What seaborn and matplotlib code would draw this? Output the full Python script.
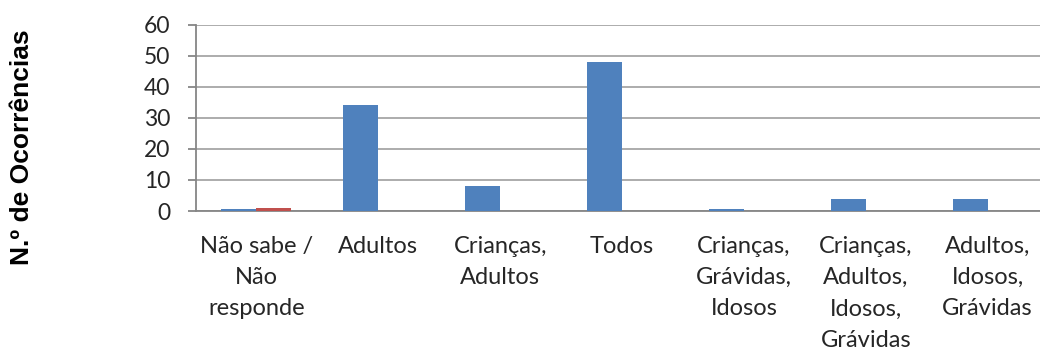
import matplotlib
matplotlib.use("Agg")
import matplotlib.pyplot as plt
from matplotlib.ticker import FixedLocator
import pandas as pd
import seaborn as sns

# Categories of who is affected and the number of occurrences per series
categorias = [
    "Não sabe /\nNão\nresponde",
    "Adultos",
    "Crianças,\nAdultos",
    "Todos",
    "Crianças,\nGrávidas,\nIdosos",
    "Crianças,\nAdultos,\nIdosos,\nGrávidas",
    "Adultos,\nIdosos,\nGrávidas",
]
serie_1 = [0.5, 34, 8, 48, 0.5, 4, 4]
serie_2 = [1, 0, 0, 0, 0, 0, 0]
series = ["Série 1", "Série 2"]
cores = ["#4F81BD", "#C0504D"]
y_ticks = [0, 10, 20, 30, 40, 50, 60]

df = pd.DataFrame({
    "categoria": categorias * 2,
    "serie": [series[0]] * len(categorias) + [series[1]] * len(categorias),
    "valor": serie_1 + serie_2,
})

sns.set_theme(style="white")
plt.rcParams["font.family"] = ["Lato", "DejaVu Sans"]

W, H = 1040, 354
fig = plt.figure(figsize=(W / 100, H / 100), dpi=100)
x0, x1 = 195.5, 1048.5
y0, y1 = 211, 24.5
ax = fig.add_axes([x0 / W, (H - y0) / H, (x1 - x0) / W, (y0 - y1) / H])

grid_c = "#A6A6A6"
axis_c = "#868686"
text_c = "#262626"

for side in ("top", "right"):
    ax.spines[side].set_visible(False)
for side in ("left", "bottom"):
    ax.spines[side].set_color(axis_c)
    ax.spines[side].set_linewidth(1.3)
    ax.spines[side].set_zorder(1)

sns.barplot(
    data=df, x="categoria", y="valor", hue="serie", palette=cores,
    order=categorias, hue_order=series, width=0.575, gap=0,
    saturation=1, legend=False, ax=ax, zorder=3, linewidth=0,
)

ax.set_xlim(-0.5, len(categorias) - 0.5)
ax.set_ylim(y_ticks[0], y_ticks[-1])
ax.yaxis.set_major_locator(FixedLocator(y_ticks))
ax.grid(axis="y", color=grid_c, linewidth=1.3, zorder=0)
ax.grid(axis="x", visible=False)
ax.set_axisbelow(True)

# category boundary ticks below the x axis
ax.xaxis.set_minor_locator(FixedLocator([i - 0.5 for i in range(len(categorias) + 1)]))
ax.tick_params(axis="x", which="major", length=0, pad=18, labelsize=17, labelcolor=text_c)
ax.tick_params(axis="x", which="minor", length=6, width=1.3, color=axis_c, direction="out")
ax.tick_params(axis="y", which="major", length=6, width=1.3, color=axis_c, direction="out",
               labelsize=16.5, labelcolor=text_c, pad=12, left=True)
for lab in ax.get_xticklabels():
    lab.set_multialignment("center")
    lab.set_linespacing(1.6)

ax.set_xlabel("")
ax.set_ylabel("")
fig.text(22 / W, 1 - 147 / H, "N.º de Ocorrências", rotation=90, ha="center", va="center",
         fontsize=19, fontweight="bold", color="black", family=["Liberation Sans", "DejaVu Sans"])

fig.savefig("out.png", dpi=100)
